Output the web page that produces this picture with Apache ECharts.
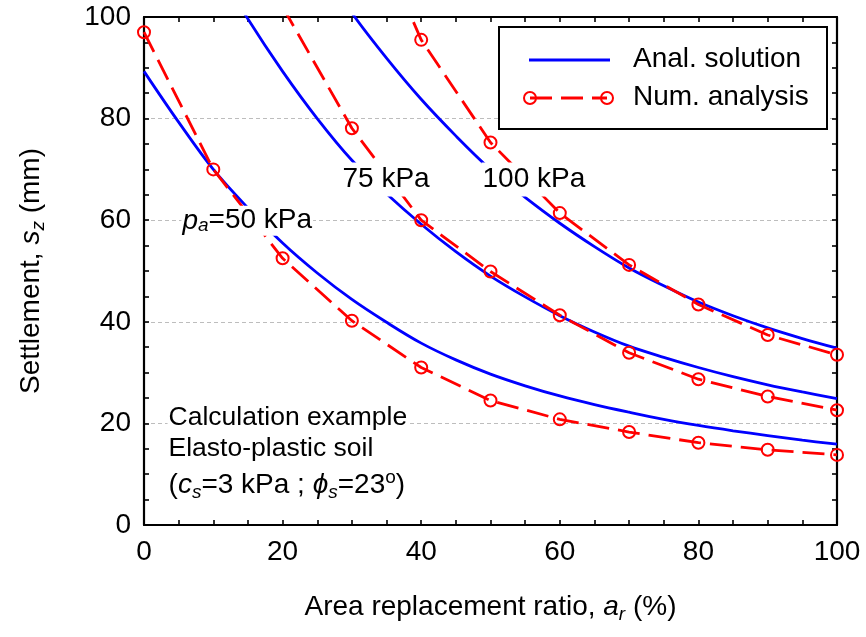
<!DOCTYPE html>
<html>
<head>
<meta charset="utf-8">
<script src="https://cdn.jsdelivr.net/npm/echarts@6/dist/echarts.min.js"></script>
<style>
  html, body { margin: 0; padding: 0; background: #fff; }
  #chart { width: 866px; height: 637px; }
</style>
</head>
<body>
<div id="chart"></div>
<script>
// Area replacement ratio (%) for the numerical runs
const ratioNum = [0, 10, 20, 30, 40, 50, 60, 70, 80, 90, 100];
// Numerical analysis settlements (mm); values above 100 lie beyond the frame
const num50  = [97.0, 70.0, 52.5, 40.2, 31.0, 24.5, 20.8, 18.3, 16.2, 14.8, 13.8];
const num75  = [null, null, 102.0, 78.1, 60.0, 49.9, 41.3, 33.9, 28.7, 25.3, 22.6];
const num100 = [null, null, null, 127.0, 95.5, 75.3, 61.4, 51.2, 43.4, 37.4, 33.5];

// Area replacement ratio (%) sampled along the analytical curves
const ratioAnal = [0, 5, 10, 15, 20, 25, 30, 35, 40, 45, 50, 55, 60, 65, 70, 75, 80, 85, 90, 95, 100];
// Analytical solution settlements (mm)
const anal50  = [89.3, 79.3, 70.0, 62.4, 55.5, 49.6, 44.4, 39.9, 35.8, 32.5, 29.7, 27.4, 25.4, 23.7, 22.2, 20.8, 19.6, 18.55, 17.6, 16.7, 15.9];
const anal75  = [null, null, 111.0, 99.6, 89.3, 80.0, 71.8, 65.2, 59.2, 53.8, 49.0, 44.9, 41.2, 38.0, 35.2, 33.0, 31.0, 29.2, 27.6, 26.2, 24.9];
const anal100 = [null, null, null, null, null, 111.3, 100.8, 91.9, 83.8, 76.6, 70.0, 64.5, 59.4, 54.8, 50.6, 47.1, 43.9, 41.2, 38.8, 36.7, 34.8];

// Tick labels
const xTicks = [0, 20, 40, 60, 80, 100];
const yTicks = [0, 20, 40, 60, 80, 100];

const FONT = '"Liberation Sans", Arial, Helvetica, sans-serif';
const FS = 28;
const BLUE = '#0000ff';
const RED = '#ff0000';

const pairs = (xs, ys) => xs.map((x, i) => [x, ys[i]]);

function richSet(main, size) {
  const fs = size || FS;
  return {
    n:   { fontSize: fs, fontFamily: FONT, color: '#000', fill: '#000', lineHeight: main },
    i:   { fontSize: fs, fontFamily: FONT, fontStyle: 'italic', color: '#000', fill: '#000', lineHeight: main },
    sub: { fontSize: 19, fontFamily: FONT, fontStyle: 'italic', color: '#000', fill: '#000', lineHeight: 4, verticalAlign: 'bottom' },
    sup: { fontSize: 19, fontFamily: FONT, color: '#000', fill: '#000', lineHeight: 22, verticalAlign: 'top' }
  };
}

function frameAxis(position, isX, showLabel) {
  const ticks = isX ? xTicks : yTicks;
  return {
    type: 'value',
    position: position,
    min: ticks[0],
    max: ticks[ticks.length - 1],
    interval: ticks[1] - ticks[0],
    axisLine: { show: true, onZero: false, lineStyle: { color: '#000', width: 2.2 } },
    axisTick: { show: true, inside: true, length: 5, lineStyle: { color: '#000', width: 1.6 } },
    minorTick: { show: true, splitNumber: 4, length: 5, lineStyle: { color: '#000', width: 1.6 } },
    axisLabel: { show: showLabel, fontSize: FS, fontFamily: FONT, color: '#000', margin: 13 },
    splitLine: { show: false },
    minorSplitLine: { show: false }
  };
}

const xBottom = Object.assign(frameAxis('bottom', true, true), {
  name: '{n|Area replacement ratio, }{i|a}{sub|r}{n| (%)}',
  nameLocation: 'middle',
  nameGap: 65,
  nameTextStyle: { fontSize: FS, fontFamily: FONT, color: '#000', rich: richSet(34) }
});
const xTop = frameAxis('top', true, false);
const yLeft = Object.assign(frameAxis('left', false, true), {
  name: '{n|Settlement, }{i|s}{sub|z}{n| (mm)}',
  nameLocation: 'middle',
  nameGap: 96,
  nameRotate: 90,
  nameTextStyle: { fontSize: FS, fontFamily: FONT, color: '#000', rich: richSet(34) },
  splitLine: { show: true, lineStyle: { color: '#bdbdbd', width: 1, type: [4, 3] } }
});
const yRight = frameAxis('right', false, false);

function analSeries(values) {
  return {
    type: 'line',
    name: 'Anal. solution',
    data: pairs(ratioAnal, values),
    showSymbol: false,
    smooth: 0.35,
    lineStyle: { color: BLUE, width: 2.8 },
    itemStyle: { color: BLUE },
    emphasis: { disabled: true },
    z: 2
  };
}

function numSeries(values) {
  return {
    type: 'line',
    name: 'Num. analysis',
    data: pairs(ratioNum, values),
    symbol: 'circle',
    symbolSize: 12,
    showAllSymbol: true,
    lineStyle: { color: RED, width: 2.8, type: [22, 9] },
    itemStyle: { color: 'rgba(255,255,255,0)', borderColor: RED, borderWidth: 2 },
    emphasis: { disabled: true },
    z: 3
  };
}

const chart = echarts.init(document.getElementById('chart'), null, { renderer: 'canvas' });

chart.setOption({
  animation: false,
  backgroundColor: '#fff',
  grid: { left: 144, right: 29, top: 17, bottom: 112, containLabel: false },
  xAxis: [xBottom, xTop],
  yAxis: [yLeft, yRight],
  series: [
    analSeries(anal50), analSeries(anal75), analSeries(anal100),
    numSeries(num50), numSeries(num75), numSeries(num100)
  ]
});

// Curve annotations, anchored in data units (left edge, vertical middle)
const notes = [
  { at: [5.4, 59.9], text: '{i|p}{sub|a}{n|=50 kPa}', lh: 30, fs: FS },
  { at: [28.5, 68.0], text: '{n|75 kPa}', lh: 34, fs: FS },
  { at: [48.7, 68.0], text: '{n|100 kPa}', lh: 34, fs: FS },
  { at: [3.4, 21.1], text: '{n|Calculation example}', lh: 30, fs: 26.5 },
  { at: [3.4, 15.0], text: '{n|Elasto-plastic soil}', lh: 30, fs: 26.5 },
  { at: [3.4, 7.9], text: '{n|(}{i|c}{sub|s}{n|=3 kPa ; }{i|ϕ}{sub|s}{n|=23}{sup|o}{n|)}', lh: 34, fs: FS }
];

const graphics = notes.map(nt => {
  const p = chart.convertToPixel({ gridIndex: 0 }, nt.at);
  return {
    type: 'text',
    x: p[0],
    y: p[1],
    z: 10,
    style: {
      text: nt.text,
      rich: richSet(nt.lh, nt.fs),
      fontSize: nt.fs,
      fontFamily: FONT,
      fill: '#000',
      align: 'left',
      verticalAlign: 'middle',
      backgroundColor: '#fff',
      padding: [0, 1]
    }
  };
});

// Legend box
const lg = { x: 499, y: 27, w: 328, h: 102 };
graphics.push(
  { type: 'rect', z: 10, shape: { x: lg.x, y: lg.y, width: lg.w, height: lg.h },
    style: { fill: '#fff', stroke: '#000', lineWidth: 2 } },
  { type: 'line', z: 11, shape: { x1: 529, y1: 60, x2: 610, y2: 60 },
    style: { stroke: BLUE, lineWidth: 2.8 } },
  { type: 'text', z: 11, x: 633, y: 59,
    style: { text: 'Anal. solution', fontSize: FS, fontFamily: FONT, fill: '#000', align: 'left', verticalAlign: 'middle' } },
  { type: 'line', z: 11, shape: { x1: 530, y1: 98, x2: 607, y2: 98 },
    style: { stroke: RED, lineWidth: 2.8, lineDash: [22, 9] } },
  { type: 'circle', z: 12, shape: { cx: 530, cy: 98, r: 6 },
    style: { fill: 'none', stroke: RED, lineWidth: 2 } },
  { type: 'circle', z: 12, shape: { cx: 607, cy: 98, r: 6 },
    style: { fill: 'none', stroke: RED, lineWidth: 2 } },
  { type: 'text', z: 11, x: 633, y: 97,
    style: { text: 'Num. analysis', fontSize: FS, fontFamily: FONT, fill: '#000', align: 'left', verticalAlign: 'middle' } }
);

chart.setOption({ graphic: graphics });
</script>
</body>
</html>
